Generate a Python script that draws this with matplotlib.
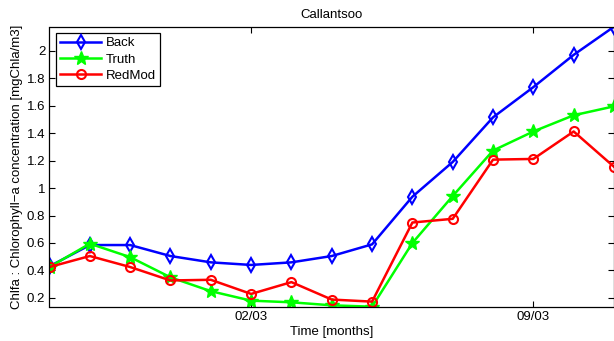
import matplotlib
matplotlib.use("Agg")
import matplotlib.pyplot as plt
import matplotlib.dates as mdates
from matplotlib.ticker import FuncFormatter, FixedLocator
import pandas as pd

plt.rcParams['font.family'] = ['Liberation Sans', 'DejaVu Sans']

dates = ["2003-02-25", "2003-02-26", "2003-02-27", "2003-02-28", "2003-03-01",
         "2003-03-02", "2003-03-03", "2003-03-04", "2003-03-05", "2003-03-06",
         "2003-03-07", "2003-03-08", "2003-03-09", "2003-03-10", "2003-03-11"]
back = [0.43, 0.585, 0.585, 0.505, 0.459, 0.44, 0.459, 0.505, 0.59, 0.937,
        1.19, 1.515, 1.735, 1.97, 2.175]
truth = [0.425, 0.595, 0.497, 0.35, 0.249, 0.18, 0.168, 0.146, 0.136, 0.6,
         0.942, 1.273, 1.412, 1.53, 1.595]
redmod = [0.425, 0.505, 0.425, 0.327, 0.332, 0.229, 0.315, 0.188, 0.173, 0.749,
          0.776, 1.207, 1.212, 1.412, 1.155]
xtick_dates = ["2003-03-02", "2003-03-09"]
xtick_labels = ["02/03", "09/03"]
yticks = [0.2, 0.4, 0.6, 0.8, 1.0, 1.2, 1.4, 1.6, 1.8, 2.0]

x = pd.to_datetime(dates)

FS = 9.5
fig = plt.figure(figsize=(6.14, 3.41), dpi=100)
ax = fig.add_axes([49.5/614, 1-306.7/341, 1-49.5/614, (306.7-26.7)/341])

ax.plot(x, back, color='#0000ff', lw=1.8, marker='d', ms=7.5, mfc='none',
        mew=1.5, label='Back')
ax.plot(x, truth, color='#00ff00', lw=1.8, marker='*', ms=10, mfc='#00ff00',
        mew=1.0, label='Truth')
ax.plot(x, redmod, color='#ff0000', lw=1.8, marker='o', ms=6.5, mfc='none',
        mew=1.5, label='RedMod')

ax.set_xlim(x[0], x[-1])
ax.set_ylim(min(truth), max(back))

ax.xaxis.set_major_locator(FixedLocator(mdates.date2num(pd.to_datetime(xtick_dates))))
ax.set_xticklabels(xtick_labels)
ax.set_yticks(yticks)
ax.yaxis.set_major_formatter(FuncFormatter(lambda v, p: '%g' % round(v, 2)))

ax.tick_params(direction='in', length=4, width=0.8, labelsize=FS,
               top=True, right=True, colors='black', pad=3)
for s in ax.spines.values():
    s.set_linewidth(0.9)
    s.set_color('black')

ax.set_title('Callantsoo', fontsize=FS, pad=6)
ax.set_xlabel('Time [months]', fontsize=FS, labelpad=2)
ax.set_ylabel('Chlfa : Chlorophyll\u2212a concentration [mgChla/m3]', fontsize=FS,
              labelpad=3)

leg = ax.legend(loc='upper left', fontsize=FS, frameon=True, fancybox=False,
                edgecolor='black', framealpha=1, handlelength=3.1,
                borderaxespad=0.5, labelspacing=0.3, handletextpad=0.4,
                borderpad=0.3)
leg.get_frame().set_linewidth(0.9)

fig.savefig('out.png', dpi=100)
